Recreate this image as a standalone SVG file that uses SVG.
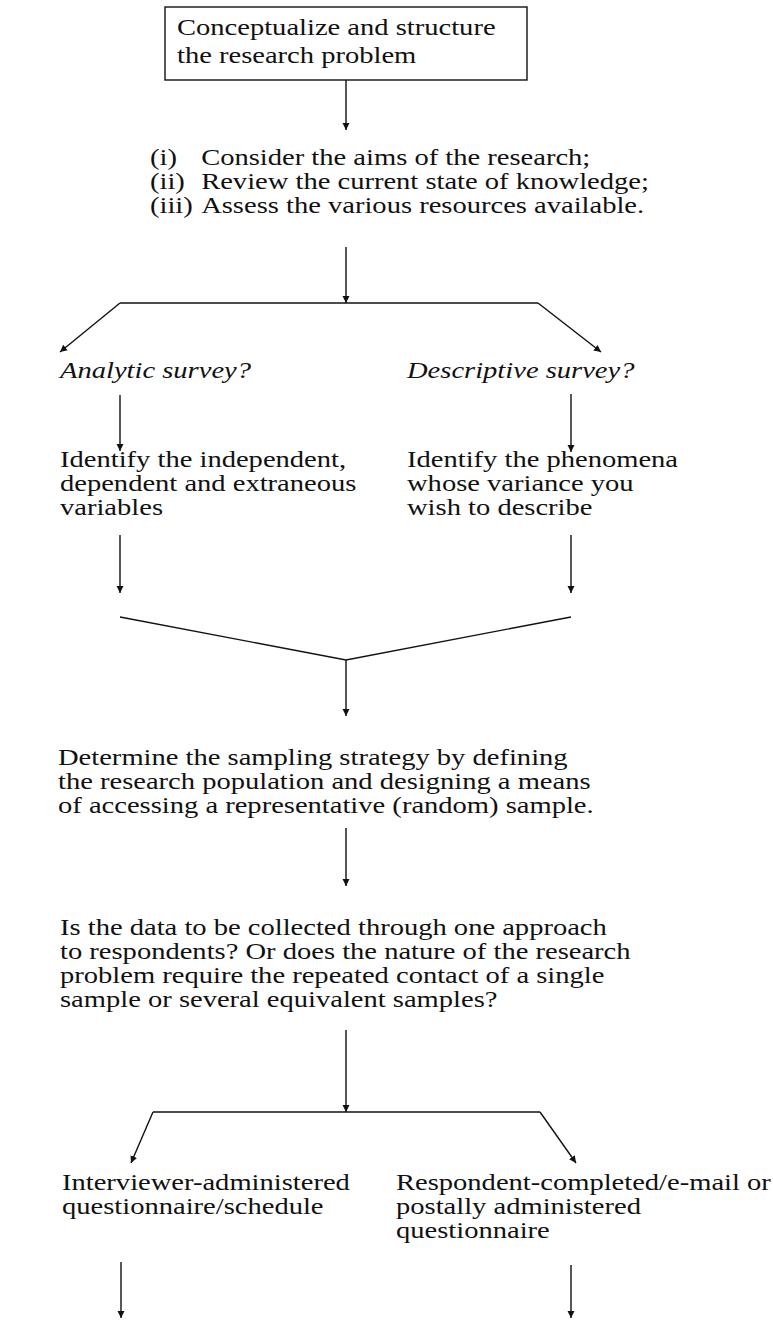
<svg xmlns="http://www.w3.org/2000/svg" width="773" height="1320" viewBox="0 0 773 1320">
  <style>
    text { font-family: "Liberation Serif", "DejaVu Serif", serif; font-size: 24px; fill: #111; }
    .it { font-style: italic; }
    .ln { stroke: #111; stroke-width: 1.4; fill: none; }
    .box { stroke: #111; stroke-width: 1.4; fill: #fff; }
  </style>
  <defs>
    <marker id="arr" viewBox="0 0 10 10" refX="10" refY="5" markerWidth="7" markerHeight="10" markerUnits="userSpaceOnUse" orient="auto">
      <path d="M0,0 L10,5 L0,10 z" fill="#111"/>
    </marker>
  </defs>
  <rect width="773" height="1320" fill="#fff"/>

  <g id="connectors">
    <line class="ln" x1="346" y1="80" x2="346" y2="130" marker-end="url(#arr)"/>
    <line class="ln" x1="346" y1="247" x2="346" y2="303" marker-end="url(#arr)"/>
    <polyline class="ln" points="120,303 538,303"/>
    <line class="ln" x1="120" y1="303" x2="60" y2="352" marker-end="url(#arr)"/>
    <line class="ln" x1="538" y1="303" x2="601" y2="352" marker-end="url(#arr)"/>
    <line class="ln" x1="120" y1="395" x2="120" y2="451" marker-end="url(#arr)"/>
    <line class="ln" x1="571" y1="394" x2="571" y2="452" marker-end="url(#arr)"/>
    <line class="ln" x1="120" y1="535" x2="120" y2="593" marker-end="url(#arr)"/>
    <line class="ln" x1="571" y1="535" x2="571" y2="593" marker-end="url(#arr)"/>
    <polyline class="ln" points="120,617 346,660 571,617"/>
    <line class="ln" x1="346" y1="660" x2="346" y2="716" marker-end="url(#arr)"/>
    <line class="ln" x1="346" y1="828" x2="346" y2="886" marker-end="url(#arr)"/>
    <line class="ln" x1="346" y1="1030" x2="346" y2="1112" marker-end="url(#arr)"/>
    <polyline class="ln" points="153,1112 540,1112"/>
    <line class="ln" x1="153" y1="1112" x2="131" y2="1163" marker-end="url(#arr)"/>
    <line class="ln" x1="540" y1="1112" x2="576" y2="1163" marker-end="url(#arr)"/>
    <line class="ln" x1="121" y1="1262" x2="121" y2="1318" marker-end="url(#arr)"/>
    <line class="ln" x1="571" y1="1265" x2="571" y2="1318" marker-end="url(#arr)"/>
  </g>

  <!-- text blocks are set wide: 24px type stretched 19% horizontally -->
  <g id="n-conceptualize">
    <rect class="box" x="165" y="7" width="362" height="73"/>
    <g transform="translate(177 0) scale(1.19 1)">
      <text x="0" y="35">Conceptualize and structure</text>
      <text x="0" y="63">the research problem</text>
    </g>
  </g>

  <g id="n-consider" transform="translate(150 0) scale(1.19 1)">
    <text x="0" y="165">(i)</text><text x="43" y="165">Consider the aims of the research;</text>
    <text x="0" y="189">(ii)</text><text x="43" y="189">Review the current state of knowledge;</text>
    <text x="0" y="213">(iii)</text><text x="43" y="213">Assess the various resources available.</text>
  </g>

  <g id="n-analytic" transform="translate(60 0) scale(1.19 1)">
    <text class="it" x="0" y="378">Analytic survey?</text>
  </g>
  <g id="n-descriptive" transform="translate(407 0) scale(1.19 1)">
    <text class="it" x="0" y="378">Descriptive survey?</text>
  </g>

  <g id="n-variables" transform="translate(60 0) scale(1.19 1)">
    <text x="0" y="467">Identify the independent,</text>
    <text x="0" y="491">dependent and extraneous</text>
    <text x="0" y="515">variables</text>
  </g>
  <g id="n-phenomena" transform="translate(407 0) scale(1.19 1)">
    <text x="0" y="467">Identify the phenomena</text>
    <text x="0" y="491">whose variance you</text>
    <text x="0" y="515">wish to describe</text>
  </g>

  <g id="n-sampling" transform="translate(58 0) scale(1.19 1)">
    <text x="0" y="765">Determine the sampling strategy by defining</text>
    <text x="0" y="789">the research population and designing a means</text>
    <text x="0" y="813">of accessing a representative (random) sample.</text>
  </g>

  <g id="n-approach" transform="translate(60 0) scale(1.19 1)">
    <text x="0" y="935">Is the data to be collected through one approach</text>
    <text x="0" y="959">to respondents? Or does the nature of the research</text>
    <text x="0" y="983">problem require the repeated contact of a single</text>
    <text x="0" y="1007">sample or several equivalent samples?</text>
  </g>

  <g id="n-interviewer" transform="translate(62 0) scale(1.19 1)">
    <text x="0" y="1190">Interviewer-administered</text>
    <text x="0" y="1214">questionnaire/schedule</text>
  </g>
  <g id="n-respondent" transform="translate(396 0) scale(1.19 1)">
    <text x="0" y="1190">Respondent-completed/e-mail or</text>
    <text x="0" y="1214">postally administered</text>
    <text x="0" y="1238">questionnaire</text>
  </g>
</svg>
